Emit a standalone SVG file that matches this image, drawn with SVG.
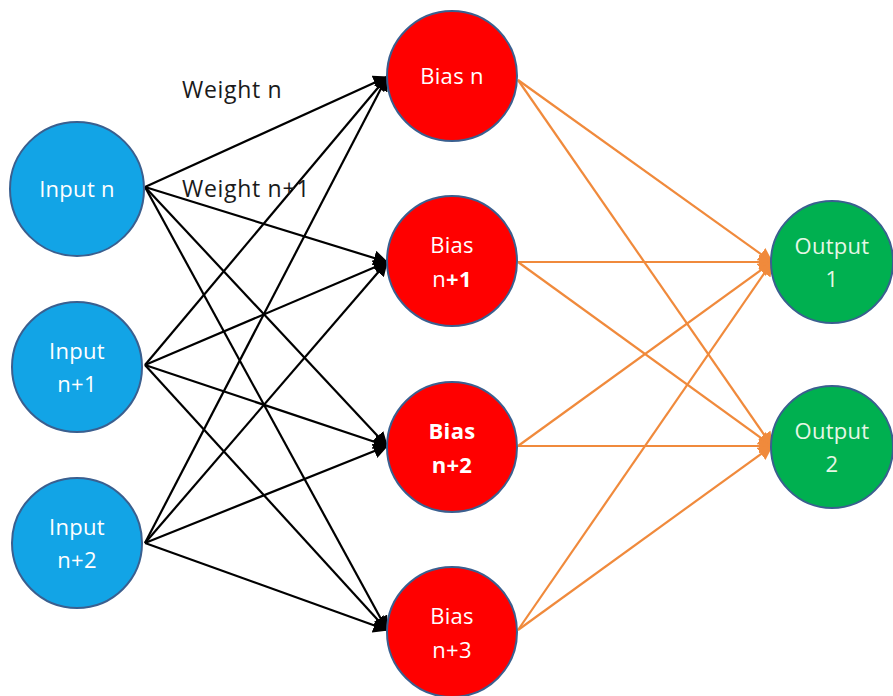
<svg xmlns="http://www.w3.org/2000/svg" width="893" height="696" viewBox="0 0 893 696">
  <style>
    .node circle { stroke: #3a5f8f; stroke-width: 2; }
    .input circle { fill: #12a4e6; }
    .bias circle { fill: #ff0000; }
    .output circle { fill: #00b050; }
    .node text { font-family: "Open Sans", "Noto Sans", sans-serif; font-size: 22px; fill: #ffffff; text-anchor: middle; letter-spacing: 0.3px; }
    .output text { fill: #e6f7e6; }
    .b { font-weight: bold; }
    .w { stroke: #000000; stroke-width: 2.2; fill: none; marker-end: url(#arrowBlack); }
    .o { stroke: #f08a3c; stroke-width: 2.2; fill: none; marker-end: url(#arrowOrange); }
    .label { font-family: "Open Sans", "Noto Sans", sans-serif; font-size: 23px; fill: #1a1a1a; letter-spacing: 0.7px; }
  </style>
  <defs>
    <marker id="arrowBlack" viewBox="0 0 10 10" refX="9" refY="5" markerWidth="15" markerHeight="15" markerUnits="userSpaceOnUse" orient="auto">
      <path d="M0,0 L10,5 L0,10 z" fill="#000000"/>
    </marker>
    <marker id="arrowOrange" viewBox="0 0 10 10" refX="9" refY="5" markerWidth="15" markerHeight="15" markerUnits="userSpaceOnUse" orient="auto">
      <path d="M0,0 L10,5 L0,10 z" fill="#f08a3c"/>
    </marker>
  </defs>

  <rect width="893" height="696" fill="#ffffff"/>

  <!-- connectors: input layer to hidden layer, hidden layer to outputs -->
  <g id="connectors">
    <line class="w" x1="145" y1="187" x2="387" y2="77"/>
    <line class="w" x1="145" y1="187" x2="387" y2="262"/>
    <line class="w" x1="145" y1="187" x2="387" y2="446"/>
    <line class="w" x1="145" y1="187" x2="387" y2="630"/>
    <line class="w" x1="145" y1="365" x2="387" y2="77"/>
    <line class="w" x1="145" y1="365" x2="387" y2="262"/>
    <line class="w" x1="145" y1="365" x2="387" y2="446"/>
    <line class="w" x1="145" y1="365" x2="387" y2="630"/>
    <line class="w" x1="145" y1="543" x2="387" y2="77"/>
    <line class="w" x1="145" y1="543" x2="387" y2="262"/>
    <line class="w" x1="145" y1="543" x2="387" y2="446"/>
    <line class="w" x1="145" y1="543" x2="387" y2="630"/>

    <line class="o" x1="518" y1="80" x2="772" y2="262"/>
    <line class="o" x1="518" y1="80" x2="772" y2="446"/>
    <line class="o" x1="518" y1="262" x2="772" y2="262"/>
    <line class="o" x1="518" y1="262" x2="772" y2="446"/>
    <line class="o" x1="518" y1="446" x2="772" y2="262"/>
    <line class="o" x1="518" y1="446" x2="772" y2="446"/>
    <line class="o" x1="518" y1="630" x2="772" y2="262"/>
    <line class="o" x1="518" y1="630" x2="772" y2="446"/>
  </g>

  <text class="label" x="182" y="98">Weight n</text>
  <text class="label" x="182" y="197">Weight n+1</text>

  <g id="input-n" class="node input">
    <circle cx="77" cy="189" r="67"/>
    <text x="77" y="197">Input n</text>
  </g>
  <g id="input-n1" class="node input">
    <circle cx="77" cy="367" r="65"/>
    <text x="77" y="359">Input</text>
    <text x="77" y="392">n+1</text>
  </g>
  <g id="input-n2" class="node input">
    <circle cx="77" cy="543" r="65"/>
    <text x="77" y="535">Input</text>
    <text x="77" y="568">n+2</text>
  </g>

  <g id="bias-n" class="node bias">
    <circle cx="452" cy="76" r="65"/>
    <text x="452" y="84">Bias n</text>
  </g>
  <g id="bias-n1" class="node bias">
    <circle cx="452" cy="261" r="65"/>
    <text x="452" y="253">Bias</text>
    <text x="452" y="287">n<tspan class="b">+1</tspan></text>
  </g>
  <g id="bias-n2" class="node bias">
    <circle cx="452" cy="447" r="65"/>
    <text class="b" x="452" y="439">Bias</text>
    <text class="b" x="452" y="473">n+2</text>
  </g>
  <g id="bias-n3" class="node bias">
    <circle cx="452" cy="632" r="65"/>
    <text x="452" y="624">Bias</text>
    <text x="452" y="658">n+3</text>
  </g>

  <g id="output-1" class="node output">
    <circle cx="832" cy="262" r="61"/>
    <text x="832" y="254">Output</text>
    <text x="832" y="287">1</text>
  </g>
  <g id="output-2" class="node output">
    <circle cx="832" cy="447" r="61"/>
    <text x="832" y="439">Output</text>
    <text x="832" y="472">2</text>
  </g>
</svg>
